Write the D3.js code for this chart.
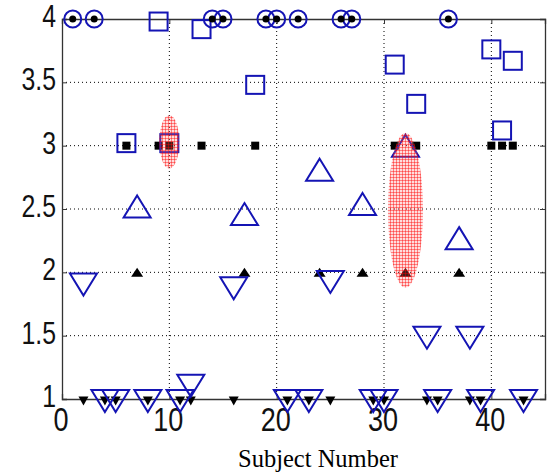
<!DOCTYPE html>
<html>
<head>
<meta charset="utf-8">
<script src="https://cdn.jsdelivr.net/npm/d3@7"></script>
<style>
  body { margin: 0; background: #fff; }
  svg { display: block; }
</style>
</head>
<body>
<div id="chart"></div>
<script>
// data
var xTicks = [0, 10, 20, 30, 40];
var yTicks = [1, 1.5, 2, 2.5, 3, 3.5, 4];
var yTickLabels = ["1", "1.5", "2", "2.5", "3", "3.5", "4"];

// circled dots, all at 4
var dotSubjects = [1, 3, 14, 15, 19, 20, 22, 26, 27, 36];
var dotValue = 4;

// small black squares at 3
var blackSquareSubjects = [6, 9, 10, 13, 18, 31, 33, 40, 41, 42];
var blackSquareValue = 3;

// small black up triangles at 2
var blackUpSubjects = [7, 17, 24, 28, 32, 37];
var blackUpValue = 2;

// small black down triangles at 1
var blackDownSubjects = [2, 4, 5, 8, 11, 12, 16, 21, 23, 25, 29, 30, 34, 35, 38, 39, 43];
var blackDownValue = 1;

// blue open squares
var squareSubjects = [6, 9, 10, 13, 18, 31, 33, 40, 41, 42];
var squareValues = [3.02, 3.98, 3.02, 3.92, 3.48, 3.64, 3.33, 3.76, 3.12, 3.67];

// blue open up triangles
var upSubjects = [7, 17, 24, 28, 32, 37];
var upValues = [2.52, 2.46, 2.81, 2.54, 3.0, 2.27];

// blue open down triangles
var downSubjects = [2, 12, 16, 25, 34, 38, 4, 5, 8, 11, 21, 23, 29, 30, 35, 39, 43];
var downValues = [1.92, 1.12, 1.89, 1.94, 1.5, 1.5, 1, 1, 1, 1, 1, 1, 1, 1, 1, 1, 1];

// red shaded ranges (center subject, center value, half widths)
var rangeSubjects = [10, 32];
var rangeCenters = [3.03, 2.49];
var rangeHalfX = [0.93, 1.63];
var rangeHalfY = [0.21, 0.61];

var svgWidth = 550, svgHeight = 472;
var plotLeft = 62, plotRight = 545, plotTop = 19, plotBottom = 399;
var blue = "#1414b4";

var svg = d3.select("#chart").append("svg")
  .attr("width", svgWidth)
  .attr("height", svgHeight);

var x = d3.scaleLinear().domain([0, 45]).range([plotLeft, plotRight]);
var y = d3.scaleLinear().domain([1, 4]).range([plotBottom, plotTop]);

// hatch pattern for the shaded ranges
var defs = svg.append("defs");
var pat = defs.append("pattern")
  .attr("id", "hatch")
  .attr("patternUnits", "userSpaceOnUse")
  .attr("width", 3).attr("height", 3);
pat.append("rect").attr("width", 3).attr("height", 3).attr("fill", "rgba(255,120,120,0.25)");
pat.append("path").attr("d", "M0,0.5H3M0.5,0V3")
  .attr("stroke", "rgba(255,0,0,0.42)").attr("stroke-width", 1);

// grid lines
svg.append("g")
  .selectAll("line")
  .data(xTicks.filter(function(d) { return d > 0; }))
  .enter().append("line")
  .attr("x1", function(d) { return x(d); })
  .attr("x2", function(d) { return x(d); })
  .attr("y1", plotTop).attr("y2", plotBottom)
  .attr("stroke", "#000").attr("stroke-width", 1)
  .attr("stroke-dasharray", "1,3");

svg.append("g")
  .selectAll("line")
  .data(yTicks.filter(function(d) { return d > 1 && d < 4; }))
  .enter().append("line")
  .attr("y1", function(d) { return y(d); })
  .attr("y2", function(d) { return y(d); })
  .attr("x1", plotLeft).attr("x2", plotRight)
  .attr("stroke", "#000").attr("stroke-width", 1)
  .attr("stroke-dasharray", "1,3");

// axes as a box with inward ticks
var tickLen = 5;
svg.append("g").attr("transform", "translate(0," + plotBottom + ")")
  .call(d3.axisBottom(x).tickValues(xTicks).tickSize(-tickLen).tickFormat(""));
svg.append("g").attr("transform", "translate(0," + plotTop + ")")
  .call(d3.axisTop(x).tickValues(xTicks).tickSize(-tickLen).tickFormat(""));
svg.append("g").attr("transform", "translate(" + plotLeft + ",0)")
  .call(d3.axisLeft(y).tickValues(yTicks).tickSize(-tickLen).tickFormat(""));
svg.append("g").attr("transform", "translate(" + plotRight + ",0)")
  .call(d3.axisRight(y).tickValues(yTicks).tickSize(-tickLen).tickFormat(""));
svg.selectAll(".domain").attr("stroke", "#333").attr("stroke-width", 1.3);
svg.selectAll(".tick line").attr("stroke", "#333");

// tick labels
svg.append("g").selectAll("text")
  .data(xTicks)
  .enter().append("text")
  .attr("transform", function(d) { return "translate(" + (x(d) - 1) + ",431) scale(0.82,1)"; })
  .attr("text-anchor", "middle")
  .attr("font-family", "Liberation Sans, Arial, sans-serif")
  .attr("font-size", 33)
  .attr("fill", "#111")
  .text(function(d) { return d; });

svg.append("g").selectAll("text")
  .data(yTicks)
  .enter().append("text")
  .attr("transform", function(d) { return "translate(56," + (y(d) + 8) + ") scale(0.8,1)"; })
  .attr("text-anchor", "end")
  .attr("font-family", "Liberation Sans, Arial, sans-serif")
  .attr("font-size", 31)
  .attr("fill", "#111")
  .text(function(d, i) { return yTickLabels[i]; });

svg.append("text")
  .attr("x", 318).attr("y", 467)
  .attr("text-anchor", "middle")
  .attr("font-family", "Liberation Serif, Times New Roman, serif")
  .attr("font-size", 24.5)
  .attr("fill", "#000")
  .text("Subject Number");

// marker shapes
function tri(w, h, up) {
  return up
    ? "M0," + (-h / 2) + "L" + (w / 2) + "," + (h / 2) + "L" + (-w / 2) + "," + (h / 2) + "Z"
    : "M0," + (h / 2) + "L" + (w / 2) + "," + (-h / 2) + "L" + (-w / 2) + "," + (-h / 2) + "Z";
}

var marks = svg.append("g");

// black markers
marks.selectAll(".bsq")
  .data(blackSquareSubjects)
  .enter().append("rect")
  .attr("x", function(d) { return x(d) - 4; })
  .attr("y", y(blackSquareValue) - 4)
  .attr("width", 8).attr("height", 8)
  .attr("fill", "#000");

marks.selectAll(".bup")
  .data(blackUpSubjects)
  .enter().append("path")
  .attr("d", tri(12, 9, true))
  .attr("transform", function(d) { return "translate(" + x(d) + "," + y(blackUpValue) + ")"; })
  .attr("fill", "#000");

marks.selectAll(".bdn")
  .data(blackDownSubjects)
  .enter().append("path")
  .attr("d", tri(10, 9, false))
  .attr("transform", function(d) { return "translate(" + x(d) + "," + (y(blackDownValue) + 2) + ")"; })
  .attr("fill", "#000");

// blue open markers
marks.selectAll(".sq")
  .data(squareSubjects)
  .enter().append("rect")
  .attr("x", function(d) { return x(d) - 9; })
  .attr("y", function(d, i) { return y(squareValues[i]) - 9; })
  .attr("width", 18).attr("height", 18)
  .attr("fill", "none").attr("stroke", blue).attr("stroke-width", 2);

marks.selectAll(".up")
  .data(upSubjects)
  .enter().append("path")
  .attr("d", tri(27, 22, true))
  .attr("transform", function(d, i) { return "translate(" + x(d) + "," + y(upValues[i]) + ")"; })
  .attr("fill", "none").attr("stroke", blue).attr("stroke-width", 2);

marks.selectAll(".dn")
  .data(downSubjects)
  .enter().append("path")
  .attr("d", tri(27, 22, false))
  .attr("transform", function(d, i) { return "translate(" + x(d) + "," + (y(downValues[i]) + 2) + ")"; })
  .attr("fill", "none").attr("stroke", blue).attr("stroke-width", 2);

marks.selectAll(".ring")
  .data(dotSubjects)
  .enter().append("circle")
  .attr("cx", function(d) { return x(d); })
  .attr("cy", y(dotValue))
  .attr("r", 8.5)
  .attr("fill", "none").attr("stroke", blue).attr("stroke-width", 2);

marks.selectAll(".dot")
  .data(dotSubjects)
  .enter().append("circle")
  .attr("cx", function(d) { return x(d); })
  .attr("cy", y(dotValue))
  .attr("r", 3.5)
  .attr("fill", "#000");

// shaded ranges
svg.append("g").selectAll("ellipse")
  .data(rangeSubjects)
  .enter().append("ellipse")
  .attr("cx", function(d) { return x(d); })
  .attr("cy", function(d, i) { return y(rangeCenters[i]); })
  .attr("rx", function(d, i) { return x(d + rangeHalfX[i]) - x(d); })
  .attr("ry", function(d, i) { return y(rangeCenters[i] - rangeHalfY[i]) - y(rangeCenters[i]); })
  .attr("fill", "url(#hatch)");
</script>
</body>
</html>
